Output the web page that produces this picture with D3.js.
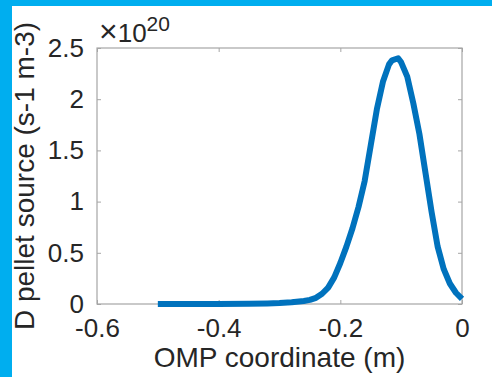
<!DOCTYPE html>
<html>
<head>
<meta charset="utf-8">
<script src="https://cdn.jsdelivr.net/npm/d3@7"></script>
<style>
  body { margin: 0; background: #fff; }
  svg { display: block; }
  text { font-family: "Liberation Sans", Arial, sans-serif; fill: #262626; }
</style>
</head>
<body>
<script>
// pellet source profile (units of 1e20 s-1 m-3)
const ompCoord = [-0.50, -0.45, -0.40, -0.35, -0.32, -0.30, -0.28, -0.26, -0.25, -0.24,
                  -0.23, -0.22, -0.21, -0.20, -0.19, -0.18, -0.17, -0.16, -0.15, -0.14,
                  -0.13, -0.12, -0.115, -0.105, -0.10, -0.09, -0.08, -0.07, -0.06, -0.05,
                  -0.04, -0.03, -0.02, -0.01, 0.00];
const source = [0, 0, 0.001, 0.003, 0.006, 0.010, 0.018, 0.030, 0.040, 0.060,
                0.10, 0.16, 0.26, 0.40, 0.56, 0.74, 0.95, 1.20, 1.55, 1.90,
                2.17, 2.34, 2.38, 2.40, 2.36, 2.22, 1.96, 1.66, 1.28, 0.90,
                0.56, 0.34, 0.20, 0.11, 0.05];
const xTicks = [-0.6, -0.4, -0.2, 0];
const yTicks = [0, 0.5, 1, 1.5, 2, 2.5];

const W = 492, H = 377;
let margin = {top: 48, right: 30, bottom: 73, left: 97};
let width = W - margin.left - margin.right,
    height = H - margin.top - margin.bottom;

let svg = d3.select("body").append("svg")
    .attr("width", W)
    .attr("height", H);

// blue frame strips
svg.append("rect").attr("x", 0).attr("y", 0).attr("width", W).attr("height", 6).attr("fill", "#00aeef");
svg.append("rect").attr("x", 0).attr("y", 0).attr("width", 12).attr("height", H).attr("fill", "#00aeef");

let g = svg.append("g")
    .attr("transform", "translate(" + margin.left + "," + margin.top + ")");

let x = d3.scaleLinear().domain([-0.6, 0]).range([0, width]);
let y = d3.scaleLinear().domain([0, 2.5]).range([height, 0]);

// plain hyphen-minus like the original, not the unicode minus
const fmt = d => String(d);

function styleAxis(sel) {
  sel.select(".domain").remove();
  sel.selectAll(".tick line").attr("stroke", "#a6a6a6");
  sel.selectAll("text").attr("font-size", "26px").attr("fill", "#262626");
}

g.append("g")
    .attr("transform", "translate(0," + height + ")")
    .call(d3.axisBottom(x).tickValues(xTicks).tickSize(-4).tickPadding(15).tickFormat(fmt))
    .call(styleAxis);

g.append("g")
    .call(d3.axisTop(x).tickValues(xTicks).tickSize(-4).tickFormat(""))
    .call(styleAxis);

g.append("g")
    .call(d3.axisLeft(y).tickValues(yTicks).tickSize(-4).tickPadding(13).tickFormat(fmt))
    .call(styleAxis);

g.append("g")
    .attr("transform", "translate(" + width + ",0)")
    .call(d3.axisRight(y).tickValues(yTicks).tickSize(-4).tickFormat(""))
    .call(styleAxis);

// axes box
g.append("rect")
    .attr("width", width).attr("height", height)
    .attr("fill", "none").attr("stroke", "#a6a6a6").attr("stroke-width", 1.2);

let line = d3.line()
    .x((d, i) => x(ompCoord[i]))
    .y(d => y(d));

g.append("path")
    .datum(source)
    .attr("d", line)
    .attr("fill", "none")
    .attr("stroke", "#0072bd")
    .attr("stroke-width", 6)
    .attr("stroke-linejoin", "round");

// exponent label
let ex = svg.append("text")
    .attr("x", 99).attr("y", 42)
    .attr("font-size", "26px");
ex.append("tspan").attr("font-size", "32px").text("\u00d7");
ex.append("tspan").text("10");
ex.append("tspan").attr("font-size", "21px").attr("dy", -11).text("20");

// axis labels
svg.append("text")
    .attr("x", margin.left + width / 2).attr("y", 367)
    .attr("text-anchor", "middle")
    .attr("font-size", "28px")
    .text("OMP coordinate (m)");

svg.append("text")
    .attr("transform", "translate(34," + (margin.top + height / 2) + ") rotate(-90)")
    .attr("text-anchor", "middle")
    .attr("font-size", "28px")
    .text("D pellet source (s-1 m-3)");
</script>
</body>
</html>
